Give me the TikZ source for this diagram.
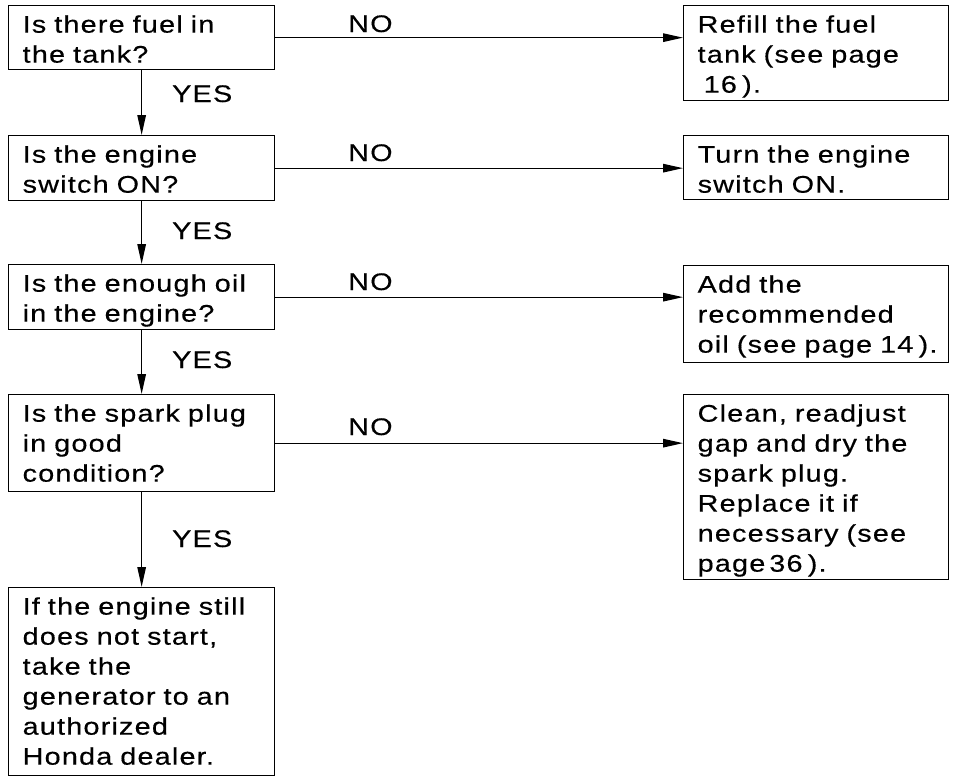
\documentclass[tikz,border=0pt]{standalone}
\usepackage{fontspec}
\setmainfont{Liberation Sans}[FakeStretch=1.2, LetterSpace=5, FakeBold=0.4]
\usetikzlibrary{arrows.meta}
\newcommand{\gapb}{\hspace{0.22em}}
\begin{document}
\begin{tikzpicture}[x=1pt,y=-1pt,
  font=\fontsize{24}{30}\selectfont,
  lbox/.style={draw, line width=1.3pt, rectangle, anchor=north west,
    inner xsep=14pt, inner ysep=0pt, text width=238pt, align=left,
    text height=27pt},
  rbox/.style={lbox, text width=237pt},
  conn/.style={line width=1.3pt, -{Triangle[length=20pt,width=8.5pt]}},
  lbl/.style={anchor=base west, inner sep=0pt}]
\useasboundingbox (0,0) rectangle (955,777);

% left column
\node[lbox, text depth=37pt] (L1) at (8,5) {Is there fuel in\\the tank?};
\node[lbox, text depth=38pt] (L2) at (8,135) {Is the engine\\switch ON?};
\node[lbox, text depth=38pt] (L3) at (8,264) {Is the enough oil\\in the engine?};
\node[lbox, text depth=70pt] (L4) at (8,394) {Is the spark plug\\in good\\condition?};
\node[lbox, text depth=161pt] (L5) at (8,587) {If the engine still\\does not start,\\take the\\generator to an\\authorized\\Honda dealer.};

% right column
\node[rbox, text depth=68pt] (R1) at (683,5) {Refill the fuel\\tank (see page\\\hspace*{0.25em}16\gapb).};
\node[rbox, text depth=37pt] (R2) at (683,135) {Turn the engine\\switch ON.};
\node[rbox, text depth=70pt] (R3) at (683,265) {Add the\\recommended\\\mbox{oil (see page 14\gapb).}};
\node[rbox, text depth=158pt] (R4) at (683,394) {Clean, readjust\\gap and dry the\\spark plug.\\Replace it if\\necessary (see\\page\,36\gapb).};

% YES connectors
\draw[conn] (L1) -- (L2);
\draw[conn] (L2) -- (L3);
\draw[conn] (L3) -- (L4);
\draw[conn] (L4) -- (L5);

% NO connectors
\draw[conn] (L1.east) -- (L1.east -| R1.west);
\draw[conn] (L2.east) -- (L2.east -| R2.west);
\draw[conn] (L3.east) -- (L3.east -| R3.west);
\draw[conn] (L4.east) -- (L4.east -| R4.west);

% labels
\node[lbl] (y1) at (172,102) {YES};
\node[lbl] (y2) at (172,239) {YES};
\node[lbl] (y3) at (172,368) {YES};
\node[lbl] (y4) at (172,547) {YES};
\node[lbl] (n1) at (348,32) {NO};
\node[lbl] (n2) at (348,161) {NO};
\node[lbl] (n3) at (348,290) {NO};
\node[lbl] (n4) at (348,435) {NO};
\end{tikzpicture}
\end{document}
